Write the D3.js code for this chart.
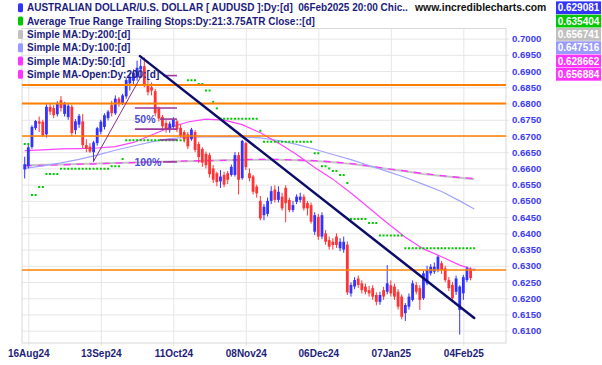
<!DOCTYPE html>
<html>
<head>
<meta charset="utf-8">
<script src="https://cdn.jsdelivr.net/npm/d3@7"></script>
<style>
body{margin:0;background:#fff}
svg{display:block;font-family:"Liberation Sans",Arial,sans-serif}
</style>
</head>
<body>
<svg id="chart"></svg>
<script>
// daily AUDUSD bars, index 0 = 15 Aug 2024 ... 124 = 07 Feb 2025 (weekdays, xmas/new year left out)
var openV = [
 0.6597,0.6607,0.6666,0.6724,0.6745,0.6744,0.6705,0.6790,0.6786,0.6767,
 0.6810,0.6768,0.6758,0.6790,0.6718,0.6735,0.6745,0.6672,0.6667,0.6650,
 0.6678,0.6713,0.6728,0.6755,0.6795,0.6770,0.6815,0.6800,0.6822,0.6862,
 0.6870,0.6880,0.6905,0.6915,0.6858,0.6850,0.6838,0.6785,0.6759,0.6740,
 0.6718,0.6728,0.6745,0.6725,0.6712,0.6705,0.6690,0.6712,0.6675,0.6660,
 0.6645,0.6641,0.6600,0.6585,0.6560,0.6580,0.6585,0.6580,0.6580,0.6641,
 0.6570,0.6678,0.6585,0.6575,0.6544,0.6500,0.6456,0.6460,0.6500,0.6535,
 0.6503,0.6513,0.6540,0.6503,0.6472,0.6497,0.6503,0.6513,0.6493,0.6487,
 0.6405,0.6451,0.6390,0.6400,0.6379,0.6374,0.6390,0.6354,0.6350,0.6365,
 0.6215,0.6236,0.6261,0.6246,0.6236,0.6225,0.6231,0.6210,0.6189,0.6225,
 0.6220,0.6240,0.6236,0.6220,0.6205,0.6154,0.6174,0.6195,0.6241,0.6231,
 0.6200,0.6246,0.6277,0.6282,0.6287,0.6308,0.6292,0.6256,0.6241,0.6220,
 0.6164,0.6215,0.6256,0.6290,0.6285]
var highV = [
 0.6636,0.6672,0.6733,0.6749,0.6760,0.6750,0.6798,0.6798,0.6795,0.6807,
 0.6823,0.6805,0.6800,0.6796,0.6752,0.6768,0.6768,0.6690,0.6678,0.6685,
 0.6728,0.6750,0.6770,0.6780,0.6808,0.6825,0.6820,0.6830,0.6880,0.6895,
 0.6905,0.6932,0.6938,0.6942,0.6875,0.6865,0.6845,0.6790,0.6765,0.6748,
 0.6745,0.6758,0.6750,0.6735,0.6718,0.6712,0.6725,0.6718,0.6682,0.6665,
 0.6652,0.6648,0.6610,0.6590,0.6595,0.6590,0.6592,0.6612,0.6650,0.6650,
 0.6688,0.6682,0.6600,0.6580,0.6550,0.6515,0.6490,0.6510,0.6545,0.6548,
 0.6545,0.6525,0.6548,0.6510,0.6500,0.6520,0.6525,0.6520,0.6500,0.6495,
 0.6465,0.6460,0.6465,0.6410,0.6390,0.6385,0.6400,0.6385,0.6390,0.6375,
 0.6249,0.6265,0.6270,0.6255,0.6245,0.6238,0.6240,0.6218,0.6220,0.6235,
 0.6302,0.6255,0.6245,0.6228,0.6212,0.6185,0.6215,0.6255,0.6250,0.6240,
 0.6285,0.6300,0.6305,0.6310,0.6332,0.6315,0.6300,0.6265,0.6250,0.6270,
 0.6240,0.6272,0.6298,0.6295,0.6293]
var lowV = [
 0.6569,0.6600,0.6660,0.6718,0.6712,0.6697,0.6695,0.6765,0.6755,0.6760,
 0.6775,0.6760,0.6750,0.6700,0.6705,0.6725,0.6662,0.6650,0.6648,0.6622,
 0.6670,0.6705,0.6720,0.6748,0.6760,0.6765,0.6790,0.6795,0.6815,0.6840,
 0.6855,0.6870,0.6880,0.6850,0.6825,0.6825,0.6760,0.6745,0.6720,0.6710,
 0.6710,0.6720,0.6712,0.6695,0.6680,0.6660,0.6685,0.6650,0.6617,0.6605,
 0.6600,0.6572,0.6555,0.6545,0.6540,0.6542,0.6552,0.6575,0.6575,0.6520,
 0.6565,0.6595,0.6560,0.6520,0.6510,0.6440,0.6440,0.6452,0.6490,0.6495,
 0.6495,0.6470,0.6434,0.6465,0.6465,0.6490,0.6495,0.6470,0.6455,0.6430,
 0.6395,0.6380,0.6382,0.6365,0.6350,0.6350,0.6355,0.6345,0.6340,0.6210,
 0.6205,0.6228,0.6232,0.6215,0.6212,0.6205,0.6195,0.6178,0.6180,0.6195,
 0.6212,0.6205,0.6195,0.6165,0.6135,0.6130,0.6165,0.6190,0.6212,0.6164,
 0.6195,0.6240,0.6270,0.6275,0.6280,0.6275,0.6250,0.6222,0.6190,0.6210,
 0.6088,0.6195,0.6250,0.6255,0.6283]
var closeV = [
 0.6613,0.6665,0.6728,0.6746,0.6738,0.6702,0.6790,0.6775,0.6764,0.6801,
 0.6786,0.6798,0.6793,0.6709,0.6745,0.6762,0.6672,0.6660,0.6652,0.6680,
 0.6724,0.6744,0.6764,0.6775,0.6770,0.6815,0.6800,0.6825,0.6872,0.6880,
 0.6895,0.6910,0.6915,0.6858,0.6835,0.6840,0.6770,0.6754,0.6730,0.6720,
 0.6738,0.6750,0.6720,0.6700,0.6690,0.6668,0.6720,0.6657,0.6635,0.6618,
 0.6610,0.6582,0.6565,0.6558,0.6575,0.6550,0.6565,0.6605,0.6641,0.6565,
 0.6685,0.6604,0.6570,0.6528,0.6523,0.6446,0.6482,0.6500,0.6530,0.6503,
 0.6528,0.6477,0.6493,0.6472,0.6487,0.6513,0.6513,0.6477,0.6477,0.6436,
 0.6456,0.6390,0.6456,0.6374,0.6359,0.6364,0.6364,0.6374,0.6374,0.6218,
 0.6241,0.6256,0.6241,0.6225,0.6220,0.6215,0.6205,0.6189,0.6210,0.6205,
 0.6246,0.6215,0.6205,0.6174,0.6143,0.6179,0.6205,0.6246,0.6220,0.6195,
 0.6277,0.6287,0.6297,0.6297,0.6328,0.6287,0.6256,0.6231,0.6200,0.6261,
 0.6236,0.6265,0.6292,0.6262,0.6291]

// x axis labels sit on these bars
var tickIdx = [1, 21, 41, 61, 81, 101, 121]
var tickLabels = ["16Aug24", "13Sep24", "11Oct24", "08Nov24", "06Dec24", "07Jan25", "04Feb25"]
var yTicks = [0.6100,0.6150,0.6200,0.6250,0.6300,0.6350,0.6400,0.6450,0.6500,0.6550,
              0.6600,0.6650,0.6700,0.6750,0.6800,0.6850,0.6900,0.6950,0.7000]

// moving averages every 5 bars
var maIdx = [0,5,10,15,20,25,30,35,40,45,50,55,60,65,70,75,80,85,90,95,100,105,110,115,120,124]
var ma50 = [0.6655,0.6657,0.6660,0.6661,0.6663,0.6667,0.6680,0.6703,0.6726,0.6743,0.6752,0.6749,0.6735,
            0.6710,0.6678,0.6643,0.6603,0.6567,0.6524,0.6478,0.6432,0.6388,0.6352,0.6328,0.6302,0.6287]
var ma100 = [0.6600,0.6608,0.6617,0.6628,0.6641,0.6656,0.6669,0.6682,0.6692,0.6696,0.6697,0.6698,0.6697,
             0.6694,0.6686,0.6674,0.6659,0.6643,0.6627,0.6609,0.6591,0.6572,0.6551,0.6529,0.6500,0.6475]
var ma200 = [0.6610,0.6611,0.6612,0.6614,0.6615,0.6617,0.6618,0.6620,0.6621,0.6622,0.6624,0.6625,0.6626,
             0.6627,0.6627,0.6625,0.6623,0.6619,0.6614,0.6607,0.6598,0.6591,0.6583,0.6577,0.6571,0.6567]
var maOpen200 = [0.6608,0.6609,0.6611,0.6613,0.6614,0.6616,0.6618,0.6620,0.6621,0.6623,0.6624,0.6625,0.6627,
                 0.6628,0.6628,0.6626,0.6624,0.6620,0.6615,0.6608,0.6599,0.6592,0.6584,0.6578,0.6572,0.6569]

// ATR trailing stop, flat runs of the step line
var stopStart = [0, 2, 4, 6,10,24,27,28,45,48,50,52,53,54,65,66,80,82,84,85,87,89,90,95, 98,105]
var stopEnd   = [1, 3, 5, 9,23,26,27,44,47,49,51,52,53,64,65,79,81,83,84,86,88,89,94,97,104,124]
var stopVal   = [0.6675,0.6518,0.6543,0.6583,0.6599,0.6607,0.6629,0.6687,0.6872,0.6860,0.6840,0.6805,0.6785,
                 0.6753,0.6716,0.6682,0.6647,0.6607,0.6600,0.6592,0.6580,0.6555,0.6444,0.6432,0.6393,0.6354]

// drawn lines
var hLevels = [0.6857, 0.6800, 0.6700, 0.6287]
var hWidths = [2, 2, 1.5, 1.5]
var fibVals = [0.6886, 0.6786, 0.6752, 0.6721, 0.6688, 0.6620]
var fibFrom = [38.2, 30.4, 37.3, 30.4, 37.3, 38.2]
var fibTo = 42
var fibText = ["50%", "100%"]
var fibTextVal = [0.6753, 0.6621]
var fibDiagIdx = [18.9, 32.2]
var fibDiagVal = [0.6620, 0.6886]
var trendIdx = [31.8, 124]
var trendVal = [0.6946, 0.6139]

var legendNames = ["AUSTRALIAN DOLLAR/U.S. DOLLAR [ AUDUSD ]:Dy:[d]  06Feb2025 20:00 Chic..",
                   "Average True Range Trailing Stops:Dy:21:3.75ATR Close::[d]",
                   "Simple MA:Dy:200:[d]", "Simple MA:Dy:100:[d]", "Simple MA:Dy:50:[d]",
                   "Simple MA-Open:Dy:200:[d]"]
var legendValues = ["0.629081", "0.635404", "0.656741", "0.647516", "0.628662", "0.656884"]
var legendColors = ["#3333ff", "#00c800", "#c0c0c0", "#9999ff", "#ff33ff", "#ff33ff"]

var mainCode = function(){
    var screen = {width:602, height:365}
    var plot = {left:22, right:506, top:28.5, bottom:343}
    var upCol = "#3333ff", downCol = "#ff3333"

    var svg = d3.select("#chart")
        .attr("width", screen.width)
        .attr("height", screen.height)

    // one bar every 3.625px, first bar just right of the frame
    var xScale = d3.scaleLinear().domain([-0.745, 132.77]).range([plot.left, plot.right])
    var yScale = d3.scaleLinear().domain([0.61, 0.70]).range([330.7, 38.6])

    //gridlines come from the axes themselves
    var yAxis = d3.axisRight(yScale)
        .tickValues(yTicks)
        .tickFormat(d3.format(".4f"))
        .tickSizeInner(-(plot.right - plot.left))
        .tickSizeOuter(0)
        .tickPadding(6)
    var gy = svg.append("g")
        .attr("transform", "translate(" + plot.right + ",0)")
        .call(yAxis)
    gy.select(".domain").remove()
    gy.selectAll(".tick line").attr("stroke", "#e6e6e6").attr("x1", 3)
    gy.selectAll(".tick text")
        .attr("fill", "#3c3cf0")
        .style("font-size", "9.6px")
        .style("font-weight", "bold")
        .style("font-family", "'Liberation Sans',Arial,sans-serif")

    var xAxis = d3.axisBottom(xScale)
        .tickValues(tickIdx)
        .tickFormat(function(d, i){ return tickLabels[i] })
        .tickSizeInner(-(plot.bottom - plot.top))
        .tickSizeOuter(0)
        .tickPadding(7)
    var gx = svg.append("g")
        .attr("transform", "translate(0," + plot.bottom + ")")
        .call(xAxis)
    gx.select(".domain").remove()
    gx.selectAll(".tick line").attr("stroke", "#e6e6e6").attr("y1", 3)
    gx.selectAll(".tick text")
        .attr("fill", "#1e1e78")
        .style("font-size", "10px")
        .style("font-weight", "bold")
        .style("font-family", "'Liberation Sans',Arial,sans-serif")

    svg.append("rect")
        .attr("x", plot.left).attr("y", plot.top)
        .attr("width", plot.right - plot.left).attr("height", plot.bottom - plot.top)
        .attr("fill", "none").attr("stroke", "#d8d8d8")

    var lineGen = d3.line()
        .x(function(d){ return xScale(d[0]) })
        .y(function(d){ return yScale(d[1]) })
    var maPts = function(vals){ return maIdx.map(function(idx, i){ return [idx, vals[i]] }) }

    // MA200 and the open-based MA200 sit on top of each other
    svg.append("path").datum(maPts(ma200)).attr("d", lineGen)
        .attr("fill", "none").attr("stroke", "#c4c4c4").attr("stroke-width", 2)
    svg.append("path").datum(maPts(maOpen200)).attr("d", lineGen)
        .attr("fill", "none").attr("stroke", "#ff33ff").attr("stroke-width", 1.3)
        .attr("stroke-dasharray", "7,6")
    svg.append("path").datum(maPts(ma100)).attr("d", lineGen)
        .attr("fill", "none").attr("stroke", "#a3a3ff").attr("stroke-width", 1.2)
    svg.append("path").datum(maPts(ma50)).attr("d", lineGen)
        .attr("fill", "none").attr("stroke", "#ff44ff").attr("stroke-width", 1.2)

    //stop dots, one per bar
    var pxBar = xScale(1) - xScale(0)
    svg.append("g").selectAll("line")
        .data(stopVal)
        .enter()
        .append("line")
        .attr("x1", function(v, i){ return xScale(stopStart[i]) - 1 })
        .attr("x2", function(v, i){ return xScale(stopEnd[i]) + 1 })
        .attr("y1", function(v){ return yScale(v) })
        .attr("y2", function(v){ return yScale(v) })
        .attr("stroke", "#00c800")
        .attr("stroke-width", 2)
        .attr("stroke-dasharray", "2," + (pxBar - 2))

    // candles
    var bars = svg.append("g").selectAll("g")
        .data(openV)
        .enter()
        .append("g")
        .attr("opacity", function(o, i){ return i == openV.length - 1 ? 0.45 : 1 })
    bars.append("line")
        .attr("x1", function(o, i){ return xScale(i) })
        .attr("x2", function(o, i){ return xScale(i) })
        .attr("y1", function(o, i){ return yScale(highV[i]) })
        .attr("y2", function(o, i){ return yScale(lowV[i]) })
        .attr("stroke", function(o, i){ return closeV[i] >= o ? upCol : downCol })
        .attr("stroke-width", 1)
    bars.append("rect")
        .attr("x", function(o, i){ return xScale(i) - 1.4 })
        .attr("width", 2.8)
        .attr("y", function(o, i){ return yScale(Math.max(o, closeV[i])) })
        .attr("height", function(o, i){ return Math.max(1, Math.abs(yScale(o) - yScale(closeV[i]))) })
        .attr("fill", function(o, i){ return closeV[i] >= o ? upCol : downCol })

    // support / resistance lines
    svg.append("g").selectAll("line")
        .data(hLevels)
        .enter()
        .append("line")
        .attr("x1", plot.left).attr("x2", plot.right)
        .attr("y1", function(v){ return yScale(v) })
        .attr("y2", function(v){ return yScale(v) })
        .attr("stroke", "#ff8000")
        .attr("stroke-width", function(v, i){ return hWidths[i] })

    // fib retracement
    svg.append("line")
        .attr("x1", xScale(fibDiagIdx[0])).attr("y1", yScale(fibDiagVal[0]))
        .attr("x2", xScale(fibDiagIdx[1])).attr("y2", yScale(fibDiagVal[1]))
        .attr("stroke", "#8a2a8a").attr("stroke-width", 1)
    svg.append("g").selectAll("line")
        .data(fibVals)
        .enter()
        .append("line")
        .attr("x1", function(v, i){ return xScale(fibFrom[i]) })
        .attr("x2", xScale(fibTo))
        .attr("y1", function(v){ return yScale(v) })
        .attr("y2", function(v){ return yScale(v) })
        .attr("stroke", "#9b3a9b")
        .attr("stroke-width", 1.6)
    svg.append("g").selectAll("text")
        .data(fibText)
        .enter()
        .append("text")
        .attr("x", xScale(30.3))
        .attr("y", function(t, i){ return yScale(fibTextVal[i]) + 4 })
        .text(function(t){ return t })
        .attr("fill", "#4b4bd6")
        .style("font-size", "10.5px")
        .style("font-weight", "bold")

    // the long down trend line
    svg.append("line")
        .attr("x1", xScale(trendIdx[0])).attr("y1", yScale(trendVal[0]))
        .attr("x2", xScale(trendIdx[1])).attr("y2", yScale(trendVal[1]))
        .attr("stroke", "#0c0c6a").attr("stroke-width", 2.5)
        .attr("stroke-linecap", "round")

    drawLegend(svg)
}

var drawLegend = function(svg){
    var rowY = function(i){ return 7.8 + i * 13.3 }
    var gs = svg.append("g").attr("id", "legend")
        .selectAll("g")
        .data(legendNames)
        .enter()
        .append("g")
        .attr("transform", function(n, i){ return "translate(0," + rowY(i) + ")" })
    gs.append("rect")
        .attr("x", 18).attr("y", -4.5)
        .attr("width", 5).attr("height", 9).attr("rx", 1.5)
        .attr("fill", function(n, i){ return legendColors[i] })
    gs.append("text")
        .attr("x", 27).attr("y", 3.6)
        .text(function(n){ return n })
        .attr("fill", "#1c1c7c")
        .style("font-size", "10px")
        .style("font-weight", "bold")
        .style("white-space", "pre")

    // value boxes top right
    var vs = svg.append("g").attr("id", "values")
        .selectAll("g")
        .data(legendValues)
        .enter()
        .append("g")
        .attr("transform", function(v, i){ return "translate(556," + (rowY(i) - 6.4) + ")" })
    vs.append("rect")
        .attr("width", 45).attr("height", 12.8)
        .attr("fill", function(v, i){ return legendColors[i] })
    vs.append("text")
        .attr("x", 22.5).attr("y", 10)
        .attr("text-anchor", "middle")
        .text(function(v){ return v })
        .attr("fill", "#fff")
        .style("font-size", "10px")
        .style("font-weight", "bold")

    svg.append("text")
        .attr("x", 415).attr("y", 11.3)
        .text("www.incrediblecharts.com")
        .attr("fill", "#111")
        .style("font-size", "10.4px")
        .style("font-weight", "bold")
}

mainCode()
</script>
</body>
</html>
